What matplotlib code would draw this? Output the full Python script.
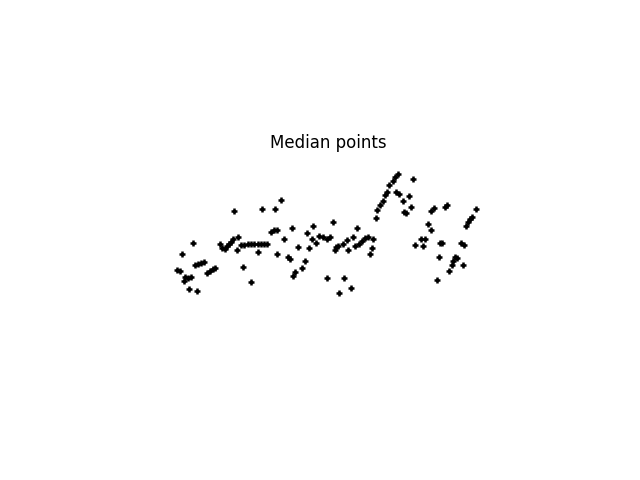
# Median points scatter
import matplotlib
matplotlib.use("Agg")
import matplotlib.pyplot as plt

# median point coordinates (image-like coords, y grows downward)
xs = [97, 100, 102, 113, 105, 108, 111, 104, 109, 117,
      115, 118, 121, 124, 127, 130, 133, 135,
      140, 142, 145, 147, 149, 151, 153,
      158, 157, 154,
      161, 164, 168, 171, 174, 178, 181, 184, 187,
      163, 171, 178,
      182, 195, 201,
      191, 194, 197, 197,
      204, 212, 208, 210,
      218, 227, 233, 232, 229, 236, 239, 243, 247, 250, 253,
      256, 255, 225, 222, 215, 213, 247,
      258, 263, 267, 268, 273, 275, 279, 282, 285, 288, 293, 292, 290, 277,
      264, 271, 259,
      296, 297, 300, 303, 305, 307, 309, 313, 315, 318,
      333, 316, 319, 323, 329, 331, 324, 326,
      335, 341, 345, 343, 348, 351, 351, 354, 365, 367,
      386, 388, 390, 392, 396,
      360, 362, 381, 384, 359, 375, 377, 373, 383, 372, 369, 357]
ys = [114, 115, 98, 87, 121, 122, 121, 125, 133, 135,
      109, 108, 107, 106, 117, 115, 113, 112,
      88, 92, 93, 90, 88, 86, 83,
      81, 94, 55,
      89, 89, 88, 88, 88, 88, 88, 88, 88,
      111, 126, 96,
      53, 53, 44,
      76, 74, 74, 98,
      83, 72, 101, 103,
      91, 77, 70, 83, 92, 87, 80, 81, 83, 81, 66,
      91, 94, 105, 112, 116, 120, 122,
      90, 88, 84, 94, 81, 90, 88, 85, 82, 81, 83, 92, 98, 72,
      122, 132, 137,
      62, 54, 49, 45, 39, 36, 29, 25, 21, 18,
      23, 36, 38, 45, 40, 51, 56, 57,
      89, 83, 83, 90, 68, 74, 55, 52, 51, 49,
      70, 66, 63, 61, 53,
      87, 87, 87, 89, 101, 101, 102, 105, 109, 109, 115, 124]

fig, ax = plt.subplots(figsize=(6.4, 4.8), dpi=100)
ax.scatter(xs, ys, marker='+', c='k', s=22, linewidths=1.8)
ax.set_xlim(0, 496)
ax.set_ylim(172, 0)
ax.set_aspect('equal')
ax.axis('off')
ax.set_title('Median points')

fig.savefig('out.png', dpi=100)
